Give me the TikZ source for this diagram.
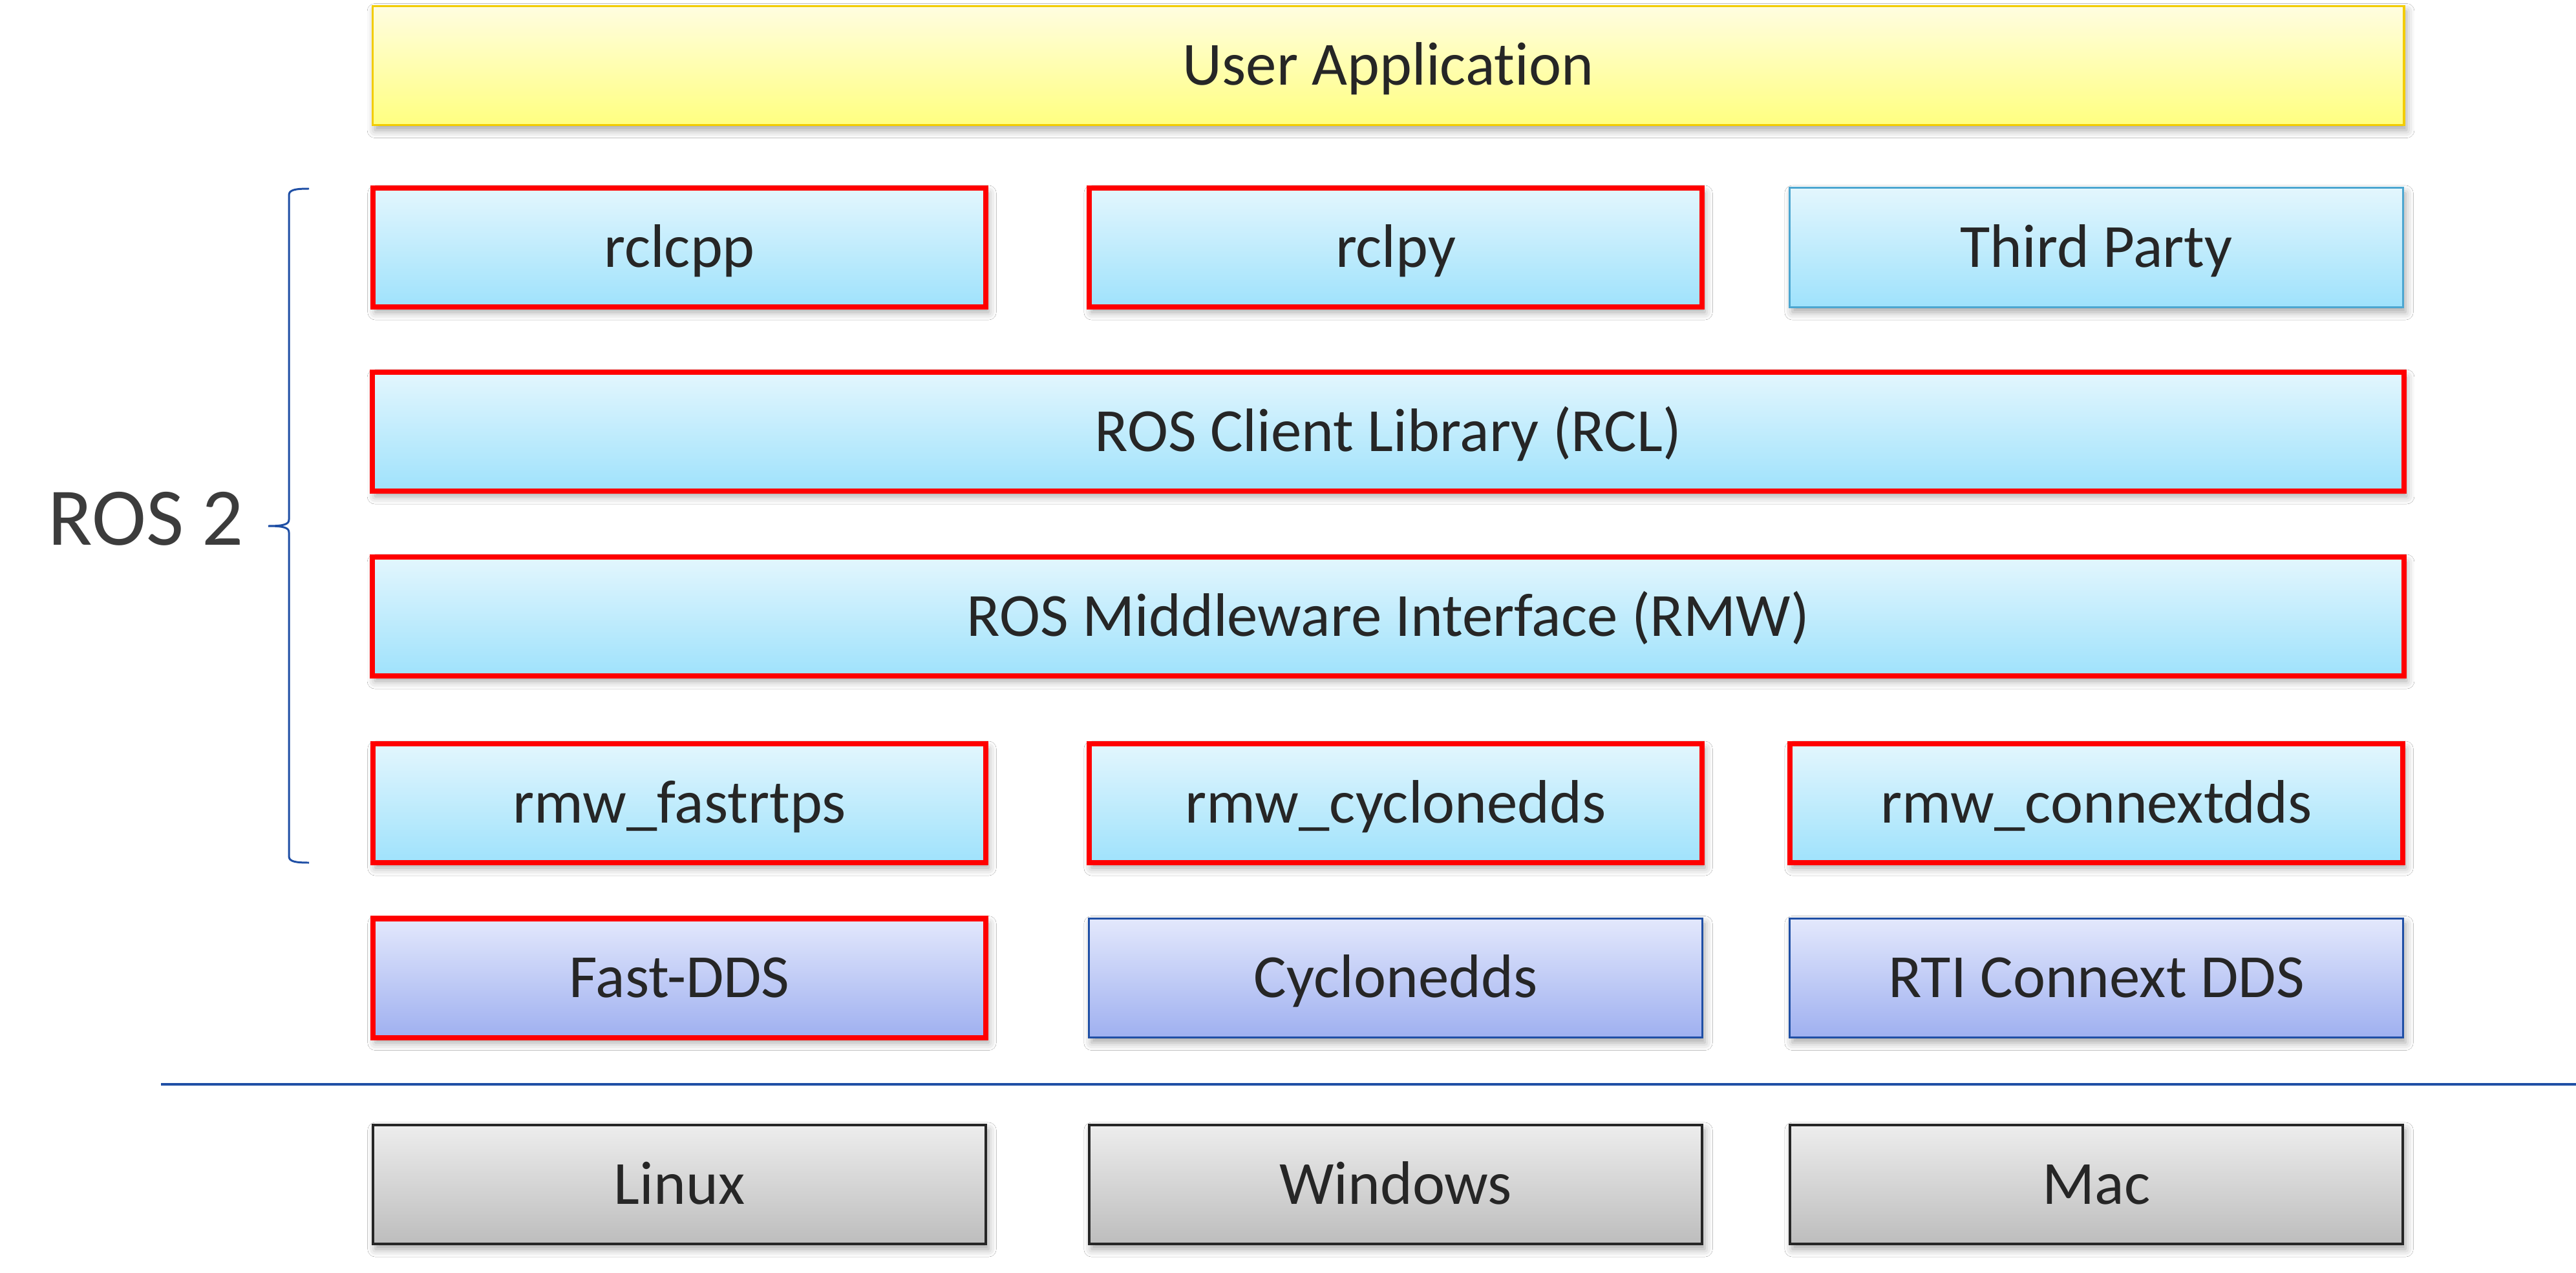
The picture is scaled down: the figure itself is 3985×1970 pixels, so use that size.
\documentclass[tikz,border=0pt]{standalone}
\usepackage{fontspec}
\setmainfont{Carlito}[Ligatures={NoCommon}]
\usetikzlibrary{shadows,shadows.blur}
\definecolor{txt}{RGB}{38,38,38}
\definecolor{rostxt}{RGB}{60,60,60}
\definecolor{uaTop}{RGB}{255,253,224}
\definecolor{uaBot}{RGB}{255,255,128}
\definecolor{uaLine}{RGB}{242,204,0}
\definecolor{lbTop}{RGB}{227,246,253}
\definecolor{lbBot}{RGB}{159,226,252}
\definecolor{lbLine}{RGB}{76,166,208}
\definecolor{ddTop}{RGB}{227,232,252}
\definecolor{ddBot}{RGB}{159,176,240}
\definecolor{ddLine}{RGB}{31,79,165}
\definecolor{osTop}{RGB}{237,237,237}
\definecolor{osBot}{RGB}{189,189,189}
\definecolor{osLine}{RGB}{38,38,38}
\definecolor{sepLine}{RGB}{31,79,165}
\newcommand{\boxfont}{\fontsize{27}{32}\selectfont}
\newcommand{\rosfont}{\fontsize{36}{43}\selectfont}
\tikzset{
  box/.style={rectangle, inner sep=0pt, minimum height=1.84cm,
    text height=0.6cm, text depth=0cm, text=txt, font=\boxfont,
    blur shadow={shadow xshift=0.04cm, shadow yshift=-0.08cm,
      shadow blur radius=0.12cm, shadow opacity=35}},
  colbox/.style={box, minimum width=9.48cm},
  widebox/.style={box, minimum width=31.41cm},
  lblue/.style={top color=lbTop, bottom color=lbBot},
  dds/.style={top color=ddTop, bottom color=ddBot},
  osfill/.style={top color=osTop, bottom color=osBot},
  redline/.style={draw=red, line width=2.3pt},
  bluethin/.style={draw=lbLine, line width=0.85pt},
  ddsline/.style={draw=ddLine, line width=0.95pt},
  osline/.style={draw=osLine, line width=1.15pt},
  ualine/.style={draw=uaLine, line width=0.9pt},
  sep/.style={draw=sepLine, line width=0.9pt},
  bracestyle/.style={draw=sepLine, line width=0.85pt}
}
\begin{document}
\begin{tikzpicture}[x=0.01cm, y=-0.01cm]
\useasboundingbox[fill=white] (0,0) rectangle (3985,1970);
% user application
\node[widebox, top color=uaTop, bottom color=uaBot, ualine] (ua) at (2147.5,101.5) {User Application};
% client libraries
\node[colbox, lblue, redline] (rclcpp) at (1051,383) {rclcpp};
\node[colbox, lblue, redline] (rclpy) at (2159,383) {rclpy};
\node[colbox, lblue, bluethin] (third) at (3243,383) {Third Party};
% RCL and RMW
\node[widebox, lblue, redline] (rcl) at (2147.5,668) {ROS Client Library (RCL)};
\node[widebox, lblue, redline] (rmw) at (2147.5,954) {ROS Middleware Interface (RMW)};
% rmw implementations
\node[colbox, lblue, redline] (fastrtps) at (1051,1243) {rmw\_fastrtps};
\node[colbox, lblue, redline] (cyclonedds) at (2159,1243) {rmw\_cyclonedds};
\node[colbox, lblue, redline] (connextdds) at (3243,1243) {rmw\_connextdds};
% DDS vendors
\node[colbox, dds, redline] (fastdds) at (1051,1513.5) {Fast-DDS};
\node[colbox, dds, ddsline] (cyclone) at (2159,1513.5) {Cyclonedds};
\node[colbox, dds, ddsline] (rti) at (3243,1513.5) {RTI Connext DDS};
% separator
\coordinate (sepL) at (249,1678);
\coordinate (sepR) at (3985,1678);
\draw[sep] (sepL) -- (sepR);
% operating systems
\node[colbox, osfill, osline] (linux) at (1051,1833) {Linux};
\node[colbox, osfill, osline] (windows) at (2159,1833) {Windows};
\node[colbox, osfill, osline] (mac) at (3243,1833) {Mac};
% ROS 2 label and brace
\node[inner sep=0pt, text=rostxt, font=\rosfont] (ros) at (226,803) {ROS 2};
\coordinate (brTop) at (478,292);
\coordinate (brTip) at (415,814);
\coordinate (brBot) at (478,1335);
\draw[bracestyle] (brTop) .. controls (456,292) and (447,294) .. (447,302)
  -- (447,804) .. controls (447,811) and (440,814) .. (brTip)
  .. controls (440,814) and (447,817) .. (447,824)
  -- (447,1325) .. controls (447,1333) and (456,1335) .. (brBot);
\end{tikzpicture}
\end{document}
